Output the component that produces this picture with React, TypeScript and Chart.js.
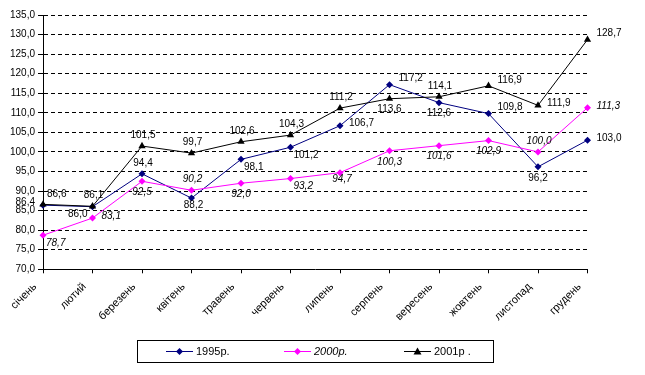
import React, { useEffect, useRef } from "react";
import { Chart, registerables } from "chart.js";

Chart.register(...registerables);

const months = [
  "січень", "лютий", "березень", "квітень", "травень", "червень",
  "липень", "серпень", "вересень", "жовтень", "листопад", "грудень",
];
const values1995 = [86.4, 86.0, 94.4, 88.2, 98.1, 101.2, 106.7, 117.2, 112.6, 109.8, 96.2, 103.0];
const values2000 = [78.7, 83.1, 92.5, 90.2, 92.0, 93.2, 94.7, 100.3, 101.6, 102.9, 100.0, 111.3];
const values2001 = [86.6, 86.1, 101.5, 99.7, 102.6, 104.3, 111.2, 113.6, 114.1, 116.9, 111.9, 128.7];
const seriesNames = ["1995р.", "2000р.", "2001р ."];
const yMin = 70;
const yMax = 135;
const yStep = 5;

// label placement codes (relative to each point)
const place1995 = ["l", "bl", "t", "bn", "br", "br", "r", "rt", "b", "rt", "b", "r"];
const place2000 = ["br", "r", "b", "t", "b", "br", "bn", "b", "b", "b", "t", "r"];
const place2001 = ["tr", "t", "t", "t", "t", "t", "t", "b", "t", "rt", "r", "rt"];

const FONT = "'Liberation Sans', Arial, sans-serif";
const fmt = (v: number) => Number(v).toFixed(1).replace(".", ",");

const placeMap: Record<string, { a: CanvasTextAlign; dx: number; dy: number }> = {
  t: { a: "center", dx: 1, dy: -11 },
  b: { a: "center", dx: 0, dy: 11 },
  bn: { a: "center", dx: 2, dy: 7 },
  r: { a: "left", dx: 9, dy: -2 },
  rt: { a: "left", dx: 9, dy: -6 },
  l: { a: "right", dx: -8, dy: -3 },
  tr: { a: "left", dx: 4, dy: -10 },
  br: { a: "left", dx: 3, dy: 8 },
  bl: { a: "right", dx: -5, dy: 8 },
};

const seriesStyle = [
  { color: "#000080", marker: "diamond", italic: false, place: place1995 },
  { color: "#FF00FF", marker: "diamond", italic: true, place: place2000 },
  { color: "#000000", marker: "triangle", italic: false, place: place2001 },
];

function drawMarker(ctx: CanvasRenderingContext2D, kind: string, x: number, y: number, color: string) {
  ctx.save();
  ctx.fillStyle = color;
  ctx.beginPath();
  if (kind === "diamond") {
    ctx.moveTo(x, y - 3.5);
    ctx.lineTo(x + 3.5, y);
    ctx.lineTo(x, y + 3.5);
    ctx.lineTo(x - 3.5, y);
  } else {
    ctx.moveTo(x, y - 4);
    ctx.lineTo(x + 4, y + 3);
    ctx.lineTo(x - 4, y + 3);
  }
  ctx.closePath();
  ctx.fill();
  ctx.restore();
}

const labelPlugin = {
  id: "pointLabels",
  afterDatasetsDraw(chart: any) {
    const ctx = chart.ctx as CanvasRenderingContext2D;
    ctx.save();
    ctx.fillStyle = "#000";
    ctx.textBaseline = "middle";
    chart.data.datasets.forEach((ds: any, di: number) => {
      const meta = chart.getDatasetMeta(di);
      const st = seriesStyle[di];
      ctx.font = `${st.italic ? "italic " : ""}10px ${FONT}`;
      meta.data.forEach((pt: any, i: number) => {
        const p = placeMap[st.place[i]] || placeMap.r;
        ctx.textAlign = p.a;
        ctx.fillText(fmt(ds.data[i]), pt.x + p.dx, pt.y + p.dy);
      });
    });
    ctx.restore();
  },
};

const legendPlugin = {
  id: "boxLegend",
  afterDraw(chart: any) {
    const ctx = chart.ctx as CanvasRenderingContext2D;
    ctx.save();
    ctx.strokeStyle = "#000";
    ctx.lineWidth = 1;
    ctx.strokeRect(137.5, 340.5, 356, 22);
    const starts = [166, 284, 404];
    const cy = 351.5;
    seriesNames.forEach((name, i) => {
      const st = seriesStyle[i];
      const x = starts[i];
      ctx.strokeStyle = st.color;
      ctx.beginPath();
      ctx.moveTo(x, cy);
      ctx.lineTo(x + 27, cy);
      ctx.stroke();
      drawMarker(ctx, st.marker, x + 13.5, cy, st.color);
      ctx.fillStyle = "#000";
      ctx.font = `${st.italic ? "italic " : ""}11px ${FONT}`;
      ctx.textAlign = "left";
      ctx.textBaseline = "middle";
      ctx.fillText(name, x + 30, cy);
    });
    ctx.restore();
  },
};

export default function App() {
  const ref = useRef<HTMLCanvasElement | null>(null);
  useEffect(() => {
    document.body.style.margin = "0";
    if (!ref.current) return;
    const series = [values1995, values2000, values2001];
    const chart = new Chart(ref.current, {
      type: "line",
      data: {
        labels: months,
        datasets: series.map((vals, i) => ({
          label: seriesNames[i],
          data: vals,
          borderColor: seriesStyle[i].color,
          backgroundColor: seriesStyle[i].color,
          borderWidth: 1,
          pointStyle: seriesStyle[i].marker === "diamond" ? "rectRot" : "triangle",
          pointRadius: seriesStyle[i].marker === "diamond" ? 3.5 : 4.2,
          pointBorderWidth: 0,
          pointBackgroundColor: seriesStyle[i].color,
          tension: 0,
          fill: false,
          clip: false as any,
          order: 2 - i,
        })),
      },
      options: {
        animation: false,
        responsive: false,
        devicePixelRatio: 1,
        layout: { padding: { top: 15, right: 57.5, left: 0, bottom: 0 } },
        plugins: { legend: { display: false }, tooltip: { enabled: false } },
        scales: {
          x: {
            offset: false,
            ticks: {
              autoSkip: false,
              maxRotation: 45,
              minRotation: 45,
              color: "#000",
              padding: 7,
              labelOffset: -8,
              font: { family: FONT, size: 11 },
            },
            grid: { display: true, drawOnChartArea: false, drawTicks: true, tickLength: 4, color: "#000" },
            border: { display: true, color: "#000", width: 1 },
            afterFit: (s: any) => {
              s.height = 105.7;
            },
          },
          y: {
            min: yMin,
            max: yMax,
            ticks: {
              stepSize: yStep,
              color: "#000",
              padding: 3,
              font: { family: FONT, size: 10 },
              callback: (v: any) => fmt(v),
            },
            grid: { color: "#000", lineWidth: 1, drawTicks: true, tickLength: 5, tickBorderDash: [] },
            border: { display: true, color: "#000", width: 1, dash: [4, 3] },
            afterFit: (s: any) => {
              s.width = 43;
            },
          },
        },
      },
      plugins: [labelPlugin, legendPlugin],
    });
    return () => chart.destroy();
  }, []);
  return <canvas ref={ref} width={645} height={375} style={{ display: "block" }} />;
}
